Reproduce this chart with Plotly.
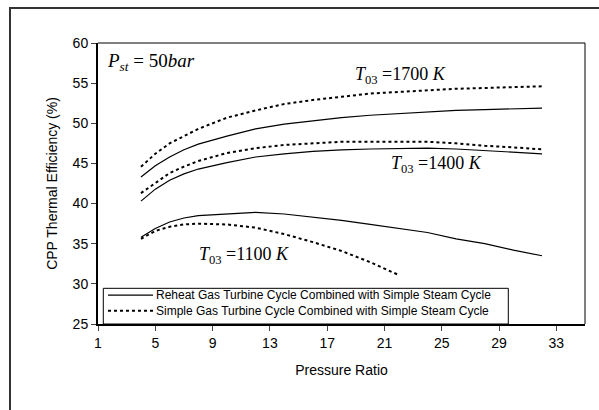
import plotly.graph_objects as go

x_full = [4, 5, 6, 7, 8, 10, 12, 14, 16, 18, 20, 22, 24, 26, 28, 30, 32]
reheat_1700 = [43.3, 44.7, 45.8, 46.7, 47.4, 48.4, 49.3, 49.9, 50.3, 50.7, 51.0, 51.2, 51.4, 51.6, 51.7, 51.8, 51.9]
simple_1700 = [44.6, 46.2, 47.5, 48.4, 49.3, 50.7, 51.6, 52.4, 52.9, 53.3, 53.7, 53.9, 54.1, 54.3, 54.4, 54.5, 54.6]
reheat_1400 = [40.3, 41.8, 42.9, 43.7, 44.3, 45.1, 45.8, 46.2, 46.5, 46.7, 46.8, 46.85, 46.9, 46.8, 46.6, 46.4, 46.2]
simple_1400 = [41.3, 42.6, 43.8, 44.6, 45.3, 46.3, 46.9, 47.3, 47.5, 47.7, 47.7, 47.7, 47.7, 47.5, 47.2, 47.0, 46.75]
reheat_1100 = [35.8, 36.9, 37.7, 38.2, 38.5, 38.7, 38.9, 38.7, 38.3, 37.9, 37.4, 36.9, 36.4, 35.6, 35.0, 34.2, 33.5]
x_short = [4, 5, 6, 7, 8, 10, 12, 14, 16, 18, 20, 22]
simple_1100 = [35.6, 36.6, 37.1, 37.4, 37.5, 37.4, 37.0, 36.2, 35.2, 34.1, 32.7, 31.1]

x_ticks = [1, 5, 9, 13, 17, 21, 25, 29, 33]
y_ticks = [25, 30, 35, 40, 45, 50, 55, 60]

legend_labels = ["Reheat Gas Turbine Cycle Combined with Simple Steam Cycle",
                 "Simple Gas Turbine Cycle Combined with Simple Steam Cycle"]

solid = dict(color="black", width=1.2)
dotted = dict(color="black", width=2, dash="3px,3px")

fig = go.Figure()
fig.add_trace(go.Scatter(x=x_full, y=reheat_1700, mode="lines", line=solid, name=legend_labels[0]))
fig.add_trace(go.Scatter(x=x_full, y=simple_1700, mode="lines", line=dotted, name=legend_labels[1]))
fig.add_trace(go.Scatter(x=x_full, y=reheat_1400, mode="lines", line=solid, name=legend_labels[0]))
fig.add_trace(go.Scatter(x=x_full, y=simple_1400, mode="lines", line=dotted, name=legend_labels[1]))
fig.add_trace(go.Scatter(x=x_full, y=reheat_1100, mode="lines", line=solid, name=legend_labels[0]))
fig.add_trace(go.Scatter(x=x_short, y=simple_1100, mode="lines", line=dotted, name=legend_labels[1]))

serif = dict(family="Liberation Serif, Times New Roman, serif", size=18, color="black")
sub03 = '<sub><span style="color:#000000">03</span></sub>'
fig.add_annotation(x=1.5, y=57.6, xref="x", yref="y", xanchor="left", yanchor="middle",
                   text='<i>P</i><sub><i><span style="color:#000000">st</span></i></sub> = 50<i>bar</i>',
                   showarrow=False, font=dict(serif, size=19))
fig.add_annotation(x=18.8, y=56.0, xref="x", yref="y", xanchor="left", yanchor="middle",
                   text="<i>T</i>" + sub03 + " =1700 <i>K</i>", showarrow=False, font=serif)
fig.add_annotation(x=21.3, y=44.9, xref="x", yref="y", xanchor="left", yanchor="middle",
                   text="<i>T</i>" + sub03 + " =1400 <i>K</i>", showarrow=False, font=serif)
fig.add_annotation(x=7.9, y=33.5, xref="x", yref="y", xanchor="left", yanchor="middle",
                   text="<i>T</i>" + sub03 + " =1100 <i>K</i>", showarrow=False, font=serif)

# outer frame and thin top/right plot border
fig.add_shape(type="rect", xref="paper", yref="paper", x0=-0.1807, x1=1.031, y0=-0.3096, y1=1.1246,
              line=dict(color="#333333", width=2), layer="below")
fig.add_shape(type="line", xref="paper", yref="paper", x0=0, x1=1, y0=1, y1=1,
              line=dict(color="black", width=1))
fig.add_shape(type="line", xref="paper", yref="paper", x0=1, x1=1, y0=0, y1=1,
              line=dict(color="black", width=1))

# compact boxed legend (as in the original)
fig.add_shape(type="rect", xref="paper", yref="paper", x0=0.0109, x1=0.8425, y0=0.0, y1=0.127,
              line=dict(color="black", width=1), fillcolor="white", layer="above")
for yp, ln in [(0.1025, solid), (0.0470, dotted)]:
    fig.add_shape(type="line", xref="paper", yref="paper", x0=0.0205, x1=0.1129, y0=yp, y1=yp,
                  line=ln, layer="above")
fig.add_annotation(x=0.1155, y=0.0752, xref="paper", yref="paper", xanchor="left", yanchor="middle",
                   align="left", text="<br>".join(legend_labels), showarrow=False,
                   font=dict(family="Liberation Sans, Arial, sans-serif", size=12, color="black"))

axis_font = dict(family="Liberation Sans, Arial, sans-serif", size=14, color="black")
fig.update_layout(
    width=599, height=410,
    margin=dict(l=98, r=14, t=43, b=86),
    paper_bgcolor="white", plot_bgcolor="white",
    font=dict(family="Liberation Sans, Arial, sans-serif", color="black"),
    showlegend=False,
    xaxis=dict(range=[1, 35], tickvals=x_ticks, ticks="outside", ticklen=5, tickwidth=1,
               showline=True, linecolor="black", linewidth=2, showgrid=False, zeroline=False,
               tickfont=axis_font,
               title=dict(text="Pressure Ratio", font=dict(family="Liberation Sans, Arial, sans-serif", size=14), standoff=15)),
    yaxis=dict(range=[25, 60], tickvals=y_ticks, ticks="outside", ticklen=5, tickwidth=1,
               showline=True, linecolor="black", linewidth=2, showgrid=False, zeroline=False,
               tickfont=axis_font,
               title=dict(text="CPP Thermal Efficiency (%)", font=dict(family="Liberation Sans, Arial, sans-serif", size=14), standoff=12)),
)

fig.write_html("out.html")
